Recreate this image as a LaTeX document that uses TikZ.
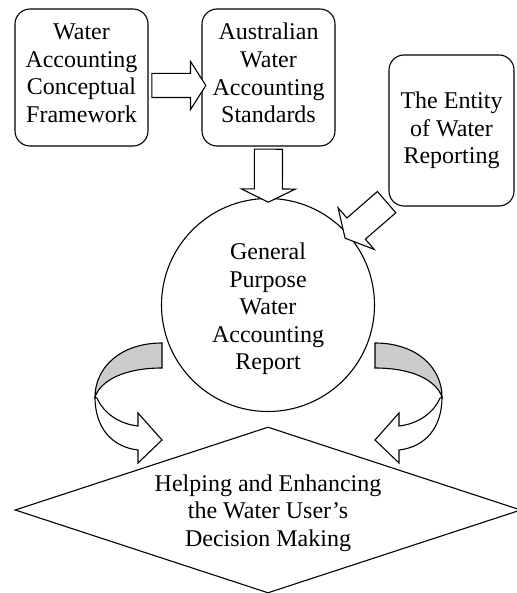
\documentclass[tikz,border=0pt]{standalone}
\usepackage{fontspec}
\setmainfont{Liberation Serif}
\usetikzlibrary{shapes.geometric, shapes.arrows}

\tikzset{
  txt/.style={font=\fontsize{24}{27.6}\selectfont, align=center},
  box/.style={txt, draw, rounded corners=15pt, inner sep=0pt},
  fatarrow/.style={draw, fill=white, single arrow, single arrow head indent=0pt,
    inner xsep=0pt, sloped, allow upside down, midway},
  backside/.style={draw, fill=black!20},
}

\begin{document}
\begin{tikzpicture}[x=1pt, y=-1pt, line width=1.1pt]
    \useasboundingbox (0,0) rectangle (516,593);

    % Boxes
    \node[box, minimum width=133, minimum height=137, text depth=9pt] (frame) at (81.5,77.5)
        {Water\\Accounting\\Conceptual\\Framework};
    \node[box, minimum width=133, minimum height=137, text depth=9pt] (standards) at (268.5,77.5)
        {Australian\\Water\\Accounting\\Standards};
    \node[box, minimum width=125, minimum height=151] (entity) at (451.5,130.5)
        {The Entity\\of Water\\Reporting};

    % Report and decision
    \node[draw, circle, minimum size=213, inner sep=0pt] (report) at (268,305) {};
    \node[txt] (reporttext) at ([yshift=-4pt]report.center)
        {General\\Purpose\\Water\\Accounting\\Report};
    \node[draw, diamond, aspect=3.05, minimum width=506, minimum height=166, inner sep=0pt]
        (decision) at (268,510) {};
    \node[txt] (decisiontext) at ([yshift=-3pt]decision.center)
        {Helping and Enhancing\\the Water User's\\Decision Making};

    % Block arrows
    \path ([yshift=-8pt]frame.east) -- ([yshift=-8pt]standards.west)
        node[fatarrow, minimum height=54, inner ysep=11.5pt, single arrow head extend=12pt,
            single arrow tip angle=115] (fw2std) {};
    \path (standards.south) -- (report)
        node[fatarrow, minimum height=53, inner ysep=13.5pt, single arrow head extend=13pt,
            single arrow tip angle=128] (std2rep) {};
    \path ([yshift=6pt]entity.south west) -- (report)
        node[fatarrow, minimum height=55, inner ysep=13.5pt, single arrow head extend=13.5pt,
            single arrow tip angle=124] (ent2rep) {};

    % Curved arrows down to the decision
    \foreach \s/\dx in {1/0, -1/537} {
        \begin{scope}[xshift=\dx, xscale=\s]
            \filldraw[backside] (162,343) .. controls (120,343) and (95,368) .. (95,397)
                .. controls (101,380) and (125,368) .. (162,368) -- cycle;
            \filldraw[fill=white] (95,397) .. controls (95,428) and (112,447) .. (138,450)
                -- (138,463) -- (162,440) -- (138,413) -- (138,426)
                .. controls (120,424) and (104,414) .. (97,398) -- cycle;
        \end{scope}
    }
\end{tikzpicture}
\end{document}
